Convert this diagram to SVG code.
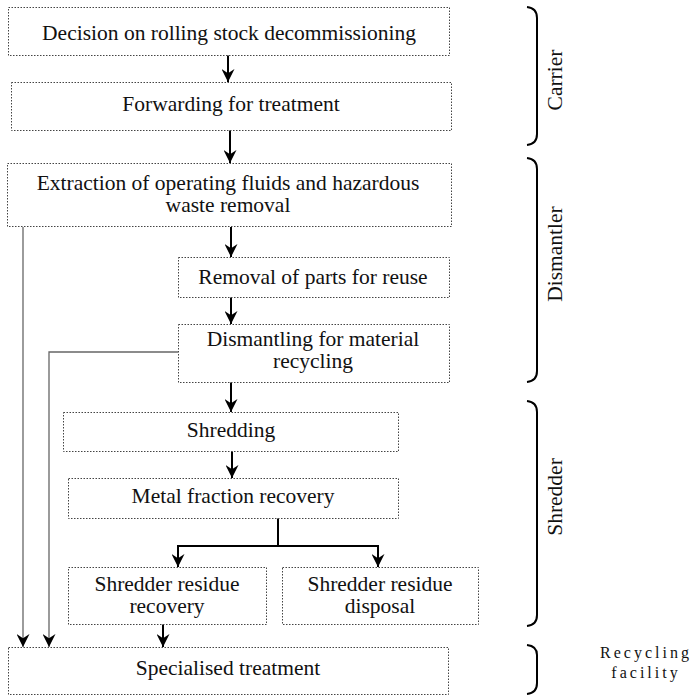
<svg xmlns="http://www.w3.org/2000/svg" width="695" height="696" viewBox="0 0 695 696">
<defs>
<style>
.box{fill:#fff;stroke:#444;stroke-width:1;stroke-dasharray:1.5 1.5}
.t{font-family:"Liberation Serif","Times New Roman",serif;font-size:21.5px;fill:#111;text-anchor:middle}
.lab{font-family:"Liberation Serif","Times New Roman",serif;font-size:21.5px;fill:#111;text-anchor:middle}
.rf{font-family:"Liberation Serif","Times New Roman",serif;font-size:16px;fill:#111;text-anchor:middle;letter-spacing:3px}
.main{fill:none;stroke:#000;stroke-width:2}
.side{fill:none;stroke:#666;stroke-width:1.3}
.br{fill:none;stroke:#000;stroke-width:2}
</style>
<marker id="ah" viewBox="0 0 12 12" refX="12" refY="6" markerWidth="13" markerHeight="13" markerUnits="userSpaceOnUse" orient="auto">
<path d="M0,0 L12,6 L0,12 L4,6 z" fill="#000"/>
</marker>
</defs>
<rect width="695" height="696" fill="#fff"/>
<g id="connectors">
<line class="main" x1="228" y1="55" x2="228" y2="82" marker-end="url(#ah)"/>
<line class="main" x1="230" y1="130" x2="230" y2="163" marker-end="url(#ah)"/>
<line class="main" x1="231" y1="227" x2="231" y2="257" marker-end="url(#ah)"/>
<line class="main" x1="231" y1="297" x2="231" y2="324" marker-end="url(#ah)"/>
<line class="main" x1="231" y1="382" x2="231" y2="412" marker-end="url(#ah)"/>
<line class="main" x1="232" y1="451" x2="232" y2="478" marker-end="url(#ah)"/>
<line class="main" x1="278" y1="518" x2="278" y2="546"/>
<polyline class="main" points="178,567 178,546 378,546 378,567" marker-end="url(#ah)"/>
<line class="main" x1="178" y1="546" x2="178" y2="567" marker-end="url(#ah)"/>
<line class="main" x1="163" y1="624" x2="163" y2="647" marker-end="url(#ah)"/>
<line class="side" x1="23" y1="227" x2="23" y2="647" marker-end="url(#ah)"/>
<polyline class="side" points="178,352 49,352 49,647" marker-end="url(#ah)"/>
</g>
<g id="n1"><rect class="box" x="8.5" y="7.5" width="441" height="48"/><text class="t" x="229" y="40">Decision on rolling stock decommissioning</text></g>
<g id="n2"><rect class="box" x="11.5" y="82.5" width="440" height="48"/><text class="t" x="231" y="111">Forwarding for treatment</text></g>
<g id="n3"><rect class="box" x="7.5" y="163.5" width="444" height="63"/><text class="t" x="228" y="190"><tspan x="228">Extraction of operating fluids and hazardous</tspan><tspan x="228" dy="22">waste removal</tspan></text></g>
<g id="n4"><rect class="box" x="178.5" y="257.5" width="271" height="40"/><text class="t" x="313" y="284">Removal of parts for reuse</text></g>
<g id="n5"><rect class="box" x="178.5" y="324.5" width="271" height="58"/><text class="t" x="313" y="346"><tspan x="313">Dismantling for material</tspan><tspan x="313" dy="22">recycling</tspan></text></g>
<g id="n6"><rect class="box" x="63.5" y="412.5" width="335" height="39"/><text class="t" x="231" y="437">Shredding</text></g>
<g id="n7"><rect class="box" x="68.5" y="478.5" width="330" height="40"/><text class="t" x="233" y="503">Metal fraction recovery</text></g>
<g id="n8"><rect class="box" x="68.5" y="567.5" width="198" height="57"/><text class="t" x="167" y="591"><tspan x="167">Shredder residue</tspan><tspan x="167" dy="22">recovery</tspan></text></g>
<g id="n9"><rect class="box" x="282.5" y="567.5" width="196" height="57"/><text class="t" x="380" y="591"><tspan x="380">Shredder residue</tspan><tspan x="380" dy="22">disposal</tspan></text></g>
<g id="n10"><rect class="box" x="8.5" y="647.5" width="440" height="47"/><text class="t" x="228" y="675">Specialised treatment</text></g>
<g id="carrier"><path class="br" d="M527,7 Q537,8 537,18 L537,134 Q537,144 527,145"/><text class="lab" transform="translate(562,80) rotate(-90)">Carrier</text></g>
<g id="dismantler"><path class="br" d="M527,158 Q537,159 537,169 L537,371 Q537,381 527,382"/><text class="lab" transform="translate(562,254) rotate(-90)">Dismantler</text></g>
<g id="shredder"><path class="br" d="M527,401 Q537,402 537,412 L537,615 Q537,625 527,626"/><text class="lab" transform="translate(562,497) rotate(-90)">Shredder</text></g>
<g id="recycling"><path class="br" d="M527,645 Q537,646 537,655 L537,683 Q537,693 527,694"/><text class="rf" x="646" y="658"><tspan x="646">Recycling</tspan><tspan x="646" dy="20">facility</tspan></text></g>
</svg>
